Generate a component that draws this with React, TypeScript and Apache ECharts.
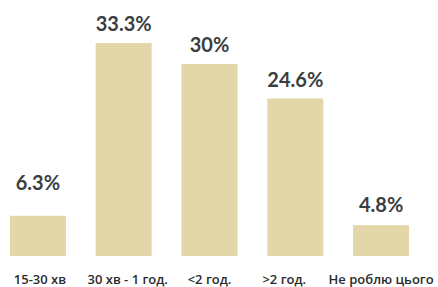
import React, { useEffect, useRef } from "react";
import * as echarts from "echarts";

const categories = ["15-30 хв", "30 хв - 1 год.", "<2 год.", ">2 год.", "Не роблю цього"];
const values = [6.3, 33.3, 30, 24.6, 4.8];
const labelDistances = [24, 10, 10, 10, 11];
const categoryShifts = [2, 4, 0, -11, 0];

export default function App() {
  const ref = useRef<HTMLDivElement>(null);
  useEffect(() => {
    const chart = echarts.init(ref.current!, null, { renderer: "svg" });
    chart.setOption({
      animation: false,
      grid: { left: 0, width: 429, top: 0, height: 256 },
      xAxis: {
        type: "category",
        data: categories.map((c, i) => {
          const s = categoryShifts[i];
          return {
            value: c,
            textStyle: { padding: [0, s < 0 ? -2 * s : 0, 0, s > 0 ? 2 * s : 0] },
          };
        }),
        axisLine: { show: false },
        axisTick: { show: false },
        axisLabel: {
          interval: 0,
          margin: 16,
          fontFamily: "Open Sans",
          fontWeight: 600,
          fontSize: 13,
          color: "#2b2b2b",
        },
      },
      yAxis: { type: "value", min: 0, max: 40, show: false, splitLine: { show: false } },
      series: [
        {
          type: "bar",
          data: values.map((v, i) => ({ value: v, label: { distance: labelDistances[i] } })),
          barWidth: 56,
          itemStyle: { color: "#e3d6a8" },
          label: {
            show: true,
            position: "top",
            formatter: (p: any) => p.value + "%",
            fontFamily: "Lato",
            fontWeight: "bold",
            fontSize: 20,
            color: "#3b3e42",
          },
        },
      ],
    });
    return () => chart.dispose();
  }, []);
  return (
    <div
      ref={ref}
      style={{ width: 443, height: 287, position: "absolute", left: -5, top: 0 }}
    />
  );
}
